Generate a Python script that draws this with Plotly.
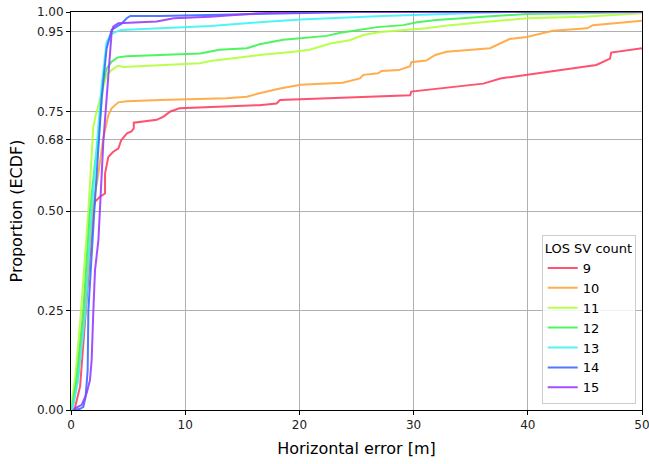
import plotly.graph_objects as go

# ---- data ----
counts = ["9", "10", "11", "12", "13", "14", "15"]
colors = ["#ff4060", "#ffa53a", "#b2ff3a", "#3cf550", "#3cf5f5", "#3c6bff", "#9a3cff"]

x9 = [0.3, 0.8, 1.3, 1.7, 1.95, 2.1, 2.54, 2.98, 2.98, 3.27, 3.7, 4.14, 4.4, 4.9, 5.3, 5.5, 5.5, 7.5, 8.1, 8.7, 9.5,
      16.5, 18.0, 18.3, 29.7, 29.8, 36.1, 37.6, 41.9, 46.0, 47.2, 47.3, 50.0]
y9 = [0.0, 0.06, 0.25, 0.42, 0.50, 0.523, 0.536, 0.544, 0.594, 0.636, 0.649, 0.657, 0.678, 0.695, 0.70, 0.708, 0.722,
      0.729, 0.737, 0.75, 0.758, 0.766, 0.770, 0.779, 0.791, 0.80, 0.82, 0.833, 0.85, 0.867, 0.883, 0.898, 0.909]

x10 = [0.1, 0.6, 1.17, 1.87, 2.4, 2.68, 2.8, 3.27, 3.56, 4.14, 4.9, 7.8, 13.6, 15.4, 16.5, 18.3, 20.1, 23.8, 25.3, 25.6,
       26.9, 27.2, 28.7, 29.7, 29.8, 31.1, 31.9, 32.9, 36.7, 38.4, 39.9, 42.2, 45.2, 45.7, 50.0]
y10 = [0.0, 0.08, 0.25, 0.50, 0.595, 0.645, 0.678, 0.741, 0.758, 0.773, 0.776, 0.779, 0.783, 0.787, 0.796, 0.808, 0.817,
       0.822, 0.833, 0.842, 0.846, 0.852, 0.854, 0.864, 0.874, 0.878, 0.892, 0.90, 0.909, 0.932, 0.937, 0.953, 0.959,
       0.967, 0.978]

x11 = [0.0, 0.4, 0.88, 1.52, 1.95, 2.16, 2.83, 3.12, 3.56, 4.1, 4.6, 7.8, 11.3, 12.2, 16.5, 19.5, 20.9, 22.7, 24.4, 25.6,
       27.1, 31.1, 33.2, 36.7, 39.9, 44.9, 50.0]
y11 = [0.0, 0.09, 0.25, 0.50, 0.71, 0.74, 0.812, 0.842, 0.854, 0.865, 0.862, 0.867, 0.871, 0.877, 0.892, 0.90, 0.905,
       0.921, 0.929, 0.942, 0.950, 0.959, 0.967, 0.976, 0.984, 0.988, 0.997]

x12 = [0.05, 0.5, 1.08, 1.66, 2.1, 2.4, 2.83, 3.12, 3.56, 4.1, 4.9, 7.8, 11.3, 13.0, 15.4, 16.5, 18.6, 22.4, 23.6, 26.8,
       29.1, 30.3, 32.0, 36.1, 39.9, 44.9, 50.0]
y12 = [0.0, 0.08, 0.25, 0.50, 0.62, 0.682, 0.825, 0.858, 0.875, 0.886, 0.889, 0.892, 0.896, 0.905, 0.909, 0.919, 0.93,
       0.94, 0.948, 0.962, 0.967, 0.974, 0.98, 0.988, 0.995, 0.997, 1.0]

x13 = [0.1, 0.6, 1.28, 1.81, 2.3, 2.7, 3.12, 3.56, 4.1, 4.4, 7.8, 12.2, 16.5, 20.1, 27.3, 36.1, 38.5, 50.0]
y13 = [0.0, 0.07, 0.25, 0.50, 0.68, 0.82, 0.925, 0.945, 0.952, 0.955, 0.959, 0.965, 0.974, 0.981, 0.99, 0.997, 1.0, 1.0]

x14 = [0.3, 0.8, 1.08, 1.28, 1.46, 1.52, 2.04, 2.68, 3.12, 3.56, 4.1, 4.4, 4.9, 5.2, 7.8, 16.5, 25.0, 50.0]
y14 = [0.0, 0.003, 0.008, 0.033, 0.10, 0.25, 0.50, 0.783, 0.909, 0.955, 0.965, 0.97, 0.985, 0.99, 0.99, 0.995, 1.0, 1.0]

x15 = [0.2, 0.35, 0.94, 1.37, 1.66, 1.81, 1.95, 2.1, 2.4, 2.54, 2.68, 2.83, 3.12, 3.4, 3.56, 3.7, 4.14, 7.5, 9.0, 12.2,
       16.5, 22.0, 50.0]
y15 = [0.0, 0.004, 0.013, 0.042, 0.075, 0.126, 0.243, 0.35, 0.427, 0.51, 0.595, 0.674, 0.783, 0.892, 0.95, 0.963, 0.972,
       0.976, 0.984, 0.988, 0.997, 1.0, 1.0]

xs = [x9, x10, x11, x12, x13, x14, x15]
ys = [y9, y10, y11, y12, y13, y14, y15]

ytick_vals = [0.0, 0.25, 0.5, 0.68, 0.75, 0.95, 1.0]
ytick_text = ["0.00", "0.25", "0.50", "0.68", "0.75", "0.95", "1.00"]
xtick_vals = [0, 10, 20, 30, 40, 50]

fig = go.Figure()
for name, c, x, y in zip(counts, colors, xs, ys):
    fig.add_trace(go.Scatter(x=x, y=y, mode="lines", name=name,
                             line=dict(color=c, width=2), opacity=0.9))

axis_common = dict(showline=True, linecolor="black", linewidth=1, mirror=True,
                   showgrid=True, gridcolor="#b0b0b0", gridwidth=1,
                   ticks="outside", ticklen=4, tickcolor="black",
                   tickfont=dict(family="DejaVu Sans", size=12, color="#222"),
                   zeroline=False, automargin=False, ticklabeloverflow="allow")

fig.update_xaxes(range=[0, 50], tickvals=xtick_vals,
                 title=dict(text="Horizontal error [m]", font=dict(family="DejaVu Sans", size=16, color="black"),
                            standoff=11),
                 **axis_common)
fig.update_yaxes(range=[0, 1], tickvals=ytick_vals, ticktext=ytick_text,
                 title=dict(text="Proportion (ECDF)", font=dict(family="DejaVu Sans", size=16, color="black"),
                            standoff=10),
                 **axis_common)

fig.update_layout(
    width=649, height=464,
    margin=dict(l=71, r=7, t=12, b=54),
    paper_bgcolor="white", plot_bgcolor="white",
    font=dict(family="DejaVu Sans", size=13, color="black"),
    legend=dict(
        title=dict(text="LOS SV count", font=dict(size=13), side="top"),
        x=0.989, xanchor="right", y=0.015, yanchor="bottom",
        bgcolor="rgba(255,255,255,0.85)", bordercolor="#cccccc", borderwidth=1,
        font=dict(size=13), itemwidth=30, tracegroupgap=0,
    ),
)

fig.write_html("out.html")
